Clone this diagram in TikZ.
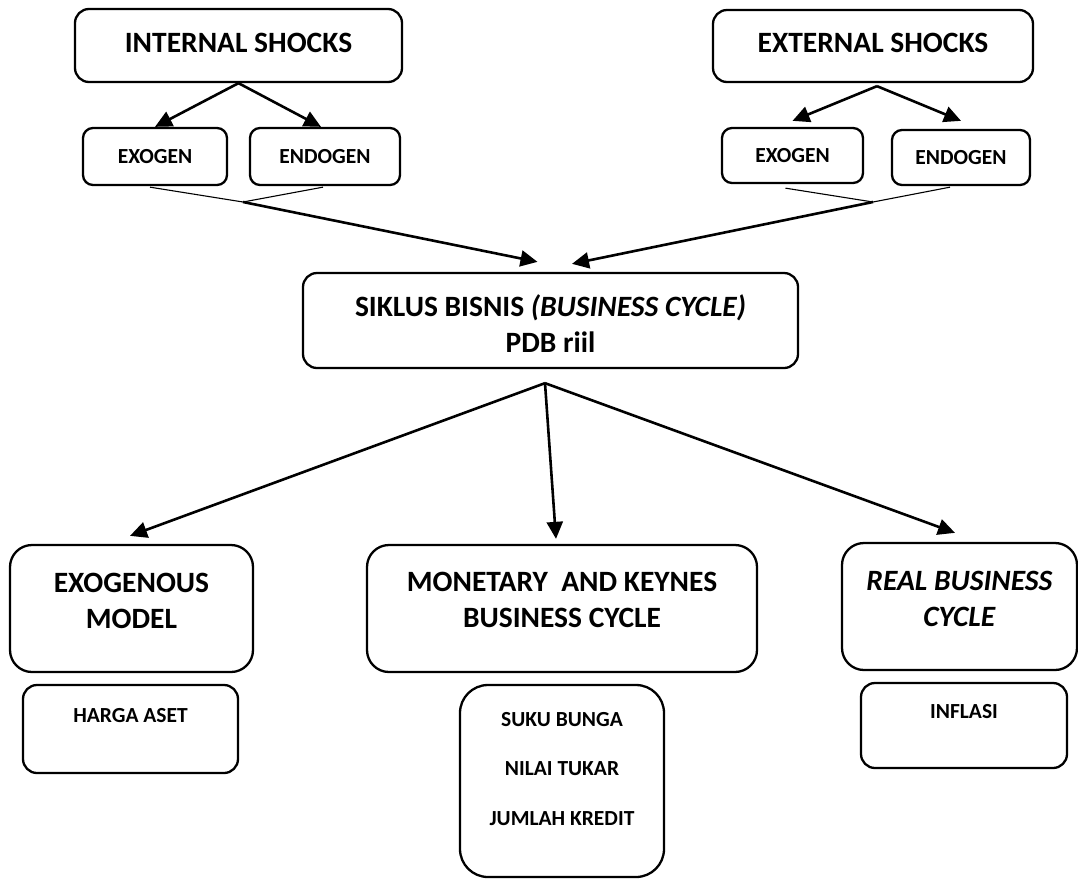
\documentclass[tikz,border=0pt]{standalone}
\usepackage{fontspec}
\setmainfont{Carlito}
\usetikzlibrary{arrows.meta,calc}
\begin{document}
\begin{tikzpicture}[x=1pt,y=-1pt,
  box/.style={draw,line width=2.3pt,rounded corners=14pt,inner sep=0pt},
  sbox/.style={draw,line width=2.3pt,rounded corners=10pt,inner sep=0pt},
  big/.style={font=\fontsize{29.5}{36}\selectfont\bfseries,align=center,text depth=0pt},
  small/.style={font=\fontsize{21.5}{26}\selectfont\bfseries,align=center,text depth=0pt},
  arr/.style={line width=2.6pt,-{Triangle[length=17pt,width=16pt]}},
  thin/.style={line width=1.1pt}]
\useasboundingbox (0,0) rectangle (1078,879);
% top boxes
\node[box,minimum width=327pt,minimum height=73pt,label={[big,yshift=3pt]center:INTERNAL SHOCKS}] (int) at (238.5,45.5) {};
\node[box,minimum width=320pt,minimum height=72pt,label={[big,yshift=3pt]center:EXTERNAL SHOCKS}] (ext) at (873,46) {};
\node[sbox,minimum width=144pt,minimum height=57pt,small] (exoI) at (155,156.5) {EXOGEN};
\node[sbox,minimum width=150pt,minimum height=57pt,small] (endoI) at (325,156.5) {ENDOGEN};
\node[sbox,minimum width=141pt,minimum height=55pt,small] (exoE) at (792.5,155.5) {EXOGEN};
\node[sbox,minimum width=138pt,minimum height=55pt,small] (endoE) at (961,157.5) {ENDOGEN};
% center
\node[box,minimum width=495pt,minimum height=95pt,label={[big,yshift=-3pt]center:SIKLUS BISNIS \textit{(BUSINESS CYCLE)}\\PDB riil}] (c) at (550.5,320.5) {};
% bottom
\node[box,minimum width=243pt,minimum height=127pt,rounded corners=22pt,label={[big,yshift=8pt]center:EXOGENOUS\\MODEL}] (exoM) at (131.5,608.5) {};
\node[sbox,minimum width=215pt,minimum height=88pt,rounded corners=14pt,label={[small,yshift=14pt]center:HARGA ASET}] (harga) at (130.5,729) {};
\node[box,minimum width=390pt,minimum height=127pt,rounded corners=22pt,label={[big,yshift=8.5pt]center:MONETARY\ \ AND KEYNES\\BUSINESS CYCLE}] (mon) at (562,608.5) {};
\node[sbox,minimum width=204pt,minimum height=192pt,rounded corners=28pt,label={[font=\fontsize{21.5}{49.5}\selectfont\bfseries,align=center,text depth=0pt,yshift=12.5pt]center:SUKU BUNGA\\NILAI TUKAR\\JUMLAH KREDIT}] (suku) at (562,781) {};
\node[box,minimum width=235pt,minimum height=127pt,rounded corners=22pt,label={[big,yshift=8pt]center:\textit{REAL BUSINESS}\\\textit{CYCLE}}] (real) at (959.5,606.5) {};
\node[sbox,minimum width=206pt,minimum height=85pt,rounded corners=14pt,label={[small,yshift=14.5pt]center:INFLASI}] (infl) at (964,725.5) {};
% connectors top
\draw[arr] (int.south) -- (exoI.north);
\draw[arr] (int.south) -- ([xshift=-4pt]endoI.north);
\draw[arr] ([xshift=4pt,yshift=-3pt]ext.south) -- ([yshift=6pt]exoE.north);
\draw[arr] ([xshift=4pt,yshift=-3pt]ext.south) -- ([yshift=8pt]endoE.north);
\coordinate (J1) at (243,202);
\coordinate (J2) at (873,202);
\draw[thin] ([xshift=-5pt,yshift=-1pt]exoI.south) -- (J1);
\draw[thin] ([xshift=-2pt,yshift=-1pt]endoI.south) -- (J1);
\draw[thin] ([xshift=-7pt,yshift=-4pt]exoE.south) -- (J2);
\draw[thin] ([xshift=-11pt,yshift=-1pt]endoE.south) -- (J2);
\draw[arr] (J1) -- ([xshift=-13pt,yshift=10pt]c.north);
\draw[arr] (J2) -- ([xshift=21.5pt,yshift=8pt]c.north);
% connectors bottom
\coordinate (P) at ([xshift=-5.5pt,yshift=-14pt]c.south);
\draw[arr] (P) -- ([xshift=-1.5pt,yshift=8pt]exoM.north);
\draw[arr] (P) -- ([xshift=-6pt,yshift=5pt]mon.north);
\draw[arr] (P) -- ([xshift=-4.5pt,yshift=9pt]real.north);
\end{tikzpicture}
\end{document}
